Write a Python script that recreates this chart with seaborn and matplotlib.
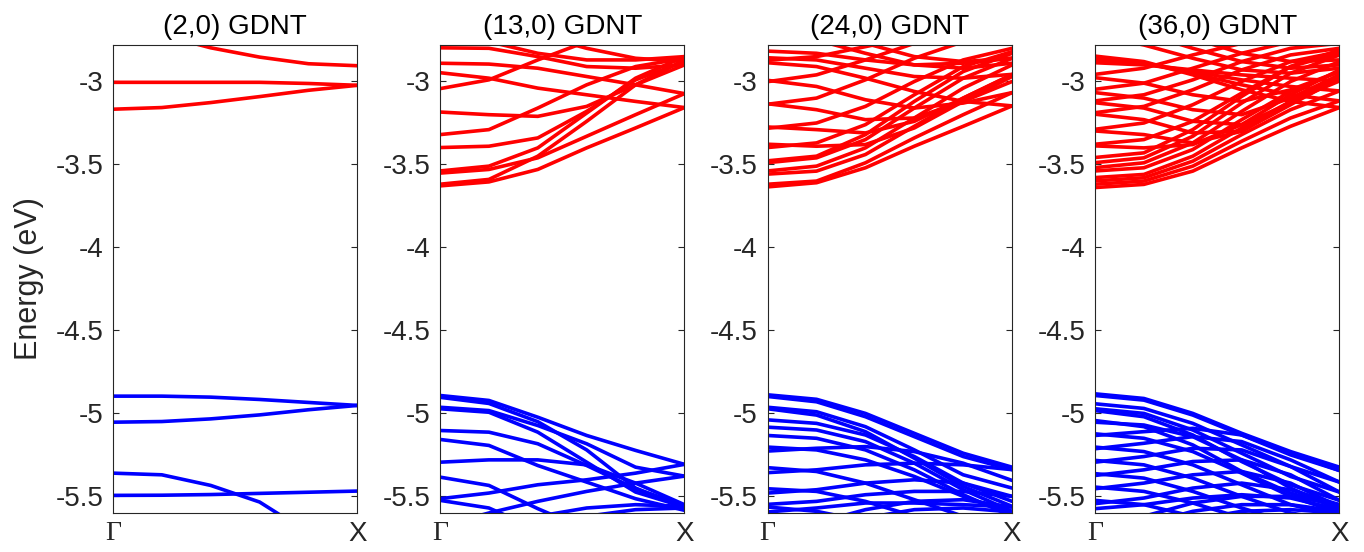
import pandas as pd
import seaborn as sns
import matplotlib.pyplot as plt

# k path Gamma -> X, energies read at these points (eV)
K_POINTS = [0.0, 0.2, 0.4, 0.6, 0.8, 1.0]
TITLES = ['(2,0) GDNT', '(13,0) GDNT', '(24,0) GDNT', '(36,0) GDNT']
Y_TICKS = [-5.5, -5, -4.5, -4, -3.5, -3]
Y_TICK_LABELS = ['-5.5', '-5', '-4.5', '-4', '-3.5', '-3']
X_TICK_LABELS = ['Γ', 'X']

# (2,0)
cond_2_0 = [
    [-2.70, -2.72, -2.797, -2.853, -2.893, -2.905],
    [-3.005, -3.005, -3.005, -3.005, -3.012, -3.023],
    [-3.167, -3.157, -3.127, -3.091, -3.053, -3.023],
]
val_2_0 = [
    [-4.896, -4.896, -4.902, -4.916, -4.934, -4.952],
    [-5.053, -5.049, -5.033, -5.009, -4.978, -4.952],
    [-5.360, -5.370, -5.434, -5.534, -5.72, -5.85],
    [-5.494, -5.493, -5.489, -5.482, -5.475, -5.468],
]

# (13,0)
cond_13_0 = [
    [-3.629, -3.605, -3.53, -3.40, -3.28, -3.157],
    [-3.619, -3.59, -3.45, -3.24, -3.02, -2.87],
    [-3.552, -3.53, -3.46, -3.33, -3.20, -3.073],
    [-3.539, -3.51, -3.40, -3.19, -2.98, -2.85],
    [-3.398, -3.39, -3.34, -3.18, -2.99, -2.88],
    [-3.320, -3.29, -3.16, -3.02, -2.91, -2.86],
    [-3.184, -3.20, -3.21, -3.15, -3.02, -2.90],
    [-3.043, -2.99, -2.87, -2.76, -2.72, -2.70],
    [-2.947, -2.98, -3.04, -3.08, -3.12, -3.157],
    [-2.890, -2.895, -2.92, -2.97, -3.02, -3.073],
    [-2.797, -2.80, -2.85, -2.91, -2.92, -2.90],
    [-2.70, -2.76, -2.83, -2.87, -2.87, -2.85],
    [-2.60, -2.64, -2.72, -2.80, -2.86, -2.88],
]
val_13_0 = [
    [-4.892, -4.922, -5.023, -5.133, -5.223, -5.307],
    [-4.903, -4.94, -5.05, -5.22, -5.45, -5.57],
    [-4.963, -4.983, -5.073, -5.183, -5.324, -5.378],
    [-4.972, -4.993, -5.113, -5.294, -5.474, -5.564],
    [-5.103, -5.113, -5.183, -5.314, -5.454, -5.554],
    [-5.157, -5.193, -5.314, -5.414, -5.514, -5.584],
    [-5.294, -5.28, -5.28, -5.31, -5.42, -5.55],
    [-5.384, -5.434, -5.574, -5.70, -5.80, -5.85],
    [-5.514, -5.48, -5.43, -5.40, -5.36, -5.307],
    [-5.524, -5.57, -5.70, -5.85, -5.95, -6.00],
    [-5.68, -5.60, -5.53, -5.47, -5.42, -5.378],
    [-5.90, -5.75, -5.62, -5.57, -5.55, -5.56],
    [-6.00, -5.90, -5.75, -5.62, -5.58, -5.57],
]

# (24,0)
cond_24_0 = [
    [-3.635, -3.61, -3.52, -3.39, -3.27, -3.147],
    [-3.619, -3.60, -3.49, -3.34, -3.20, -3.067],
    [-3.558, -3.54, -3.44, -3.27, -3.10, -2.957],
    [-3.539, -3.51, -3.40, -3.22, -3.04, -2.90],
    [-3.489, -3.46, -3.35, -3.16, -2.98, -2.86],
    [-3.478, -3.45, -3.32, -3.12, -2.94, -2.83],
    [-3.398, -3.37, -3.26, -3.08, -2.91, -2.82],
    [-3.378, -3.39, -3.38, -3.28, -3.12, -2.97],
    [-3.282, -3.25, -3.15, -3.00, -2.87, -2.80],
    [-3.274, -3.29, -3.31, -3.24, -3.10, -2.96],
    [-3.137, -3.10, -2.99, -2.86, -2.76, -2.72],
    [-3.134, -3.17, -3.23, -3.22, -3.12, -3.00],
    [-3.001, -2.96, -2.87, -2.77, -2.70, -2.67],
    [-2.993, -3.03, -3.11, -3.16, -3.13, -3.067],
    [-2.887, -2.91, -2.98, -3.06, -3.12, -3.147],
    [-2.872, -2.85, -2.79, -2.73, -2.69, -2.68],
    [-2.857, -2.87, -2.92, -2.97, -2.98, -2.957],
    [-2.817, -2.83, -2.87, -2.90, -2.89, -2.86],
    [-2.70, -2.75, -2.83, -2.90, -2.92, -2.89],
    [-2.62, -2.68, -2.77, -2.85, -2.88, -2.86],
]
val_24_0 = [
    [-4.888, -4.915, -5.00, -5.12, -5.24, -5.324],
    [-4.898, -4.93, -5.02, -5.14, -5.26, -5.339],
    [-4.963, -4.99, -5.08, -5.22, -5.37, -5.45],
    [-4.972, -5.01, -5.11, -5.27, -5.44, -5.56],
    [-5.039, -5.06, -5.13, -5.26, -5.42, -5.53],
    [-5.083, -5.10, -5.17, -5.30, -5.46, -5.59],
    [-5.133, -5.15, -5.22, -5.34, -5.49, -5.62],
    [-5.203, -5.22, -5.28, -5.38, -5.50, -5.60],
    [-5.227, -5.21, -5.20, -5.23, -5.30, -5.404],
    [-5.327, -5.35, -5.42, -5.52, -5.62, -5.70],
    [-5.357, -5.34, -5.31, -5.30, -5.31, -5.339],
    [-5.454, -5.47, -5.53, -5.62, -5.70, -5.75],
    [-5.480, -5.46, -5.42, -5.40, -5.42, -5.50],
    [-5.548, -5.53, -5.49, -5.47, -5.47, -5.50],
    [-5.564, -5.59, -5.65, -5.72, -5.78, -5.80],
    [-5.594, -5.57, -5.54, -5.54, -5.55, -5.564],
    [-5.75, -5.66, -5.58, -5.53, -5.52, -5.564],
    [-5.80, -5.72, -5.63, -5.58, -5.57, -5.594],
]

# (36,0)
cond_36_0 = [
    [-3.639, -3.62, -3.54, -3.40, -3.27, -3.157],
    [-3.619, -3.60, -3.51, -3.36, -3.22, -3.117],
    [-3.599, -3.58, -3.48, -3.32, -3.17, -3.057],
    [-3.579, -3.56, -3.45, -3.28, -3.12, -2.997],
    [-3.539, -3.52, -3.41, -3.23, -3.06, -2.94],
    [-3.519, -3.49, -3.37, -3.18, -3.00, -2.88],
    [-3.489, -3.46, -3.33, -3.13, -2.95, -2.84],
    [-3.458, -3.43, -3.29, -3.09, -2.91, -2.81],
    [-3.388, -3.40, -3.38, -3.26, -3.08, -2.93],
    [-3.378, -3.35, -3.24, -3.07, -2.91, -2.83],
    [-3.298, -3.32, -3.37, -3.30, -3.12, -2.96],
    [-3.288, -3.25, -3.14, -3.00, -2.88, -2.82],
    [-3.197, -3.23, -3.31, -3.30, -3.14, -2.98],
    [-3.188, -3.15, -3.05, -2.93, -2.84, -2.80],
    [-3.128, -3.16, -3.24, -3.26, -3.13, -2.97],
    [-3.117, -3.08, -2.99, -2.88, -2.80, -2.77],
    [-3.067, -3.10, -3.17, -3.20, -3.10, -2.96],
    [-3.047, -3.01, -2.92, -2.83, -2.76, -2.73],
    [-2.977, -3.01, -3.08, -3.12, -3.05, -2.94],
    [-2.957, -2.92, -2.84, -2.77, -2.72, -2.70],
    [-2.887, -2.90, -2.93, -2.96, -2.98, -2.997],
    [-2.872, -2.89, -2.94, -2.99, -3.03, -3.057],
    [-2.857, -2.89, -2.95, -3.02, -3.08, -3.117],
    [-2.847, -2.88, -2.96, -3.05, -3.12, -3.157],
    [-2.72, -2.78, -2.86, -2.93, -2.95, -2.92],
    [-2.65, -2.71, -2.80, -2.88, -2.92, -2.90],
    [-2.60, -2.65, -2.74, -2.83, -2.88, -2.87],
]
val_36_0 = [
    [-4.882, -4.91, -5.00, -5.12, -5.23, -5.324],
    [-4.892, -4.92, -5.01, -5.13, -5.25, -5.344],
    [-4.942, -4.97, -5.06, -5.19, -5.32, -5.414],
    [-4.972, -5.00, -5.10, -5.24, -5.38, -5.474],
    [-4.983, -5.02, -5.13, -5.29, -5.43, -5.524],
    [-5.043, -5.08, -5.19, -5.35, -5.48, -5.564],
    [-5.053, -5.07, -5.14, -5.28, -5.45, -5.58],
    [-5.123, -5.15, -5.23, -5.36, -5.50, -5.60],
    [-5.133, -5.11, -5.09, -5.13, -5.24, -5.344],
    [-5.203, -5.23, -5.31, -5.43, -5.55, -5.62],
    [-5.213, -5.18, -5.14, -5.17, -5.28, -5.414],
    [-5.283, -5.31, -5.39, -5.50, -5.60, -5.65],
    [-5.294, -5.26, -5.21, -5.22, -5.32, -5.474],
    [-5.363, -5.39, -5.47, -5.57, -5.66, -5.70],
    [-5.374, -5.34, -5.29, -5.28, -5.37, -5.524],
    [-5.444, -5.47, -5.54, -5.63, -5.70, -5.74],
    [-5.454, -5.42, -5.37, -5.35, -5.42, -5.564],
    [-5.524, -5.55, -5.62, -5.70, -5.76, -5.80],
    [-5.544, -5.51, -5.45, -5.42, -5.46, -5.55],
    [-5.574, -5.55, -5.51, -5.49, -5.51, -5.58],
    [-5.70, -5.62, -5.54, -5.50, -5.50, -5.55],
    [-5.75, -5.67, -5.59, -5.55, -5.55, -5.59],
    [-5.80, -5.72, -5.64, -5.59, -5.58, -5.60],
]

PANELS = [
    (cond_2_0, val_2_0),
    (cond_13_0, val_13_0),
    (cond_24_0, val_24_0),
    (cond_36_0, val_36_0),
]


def to_frame(bands):
    rows = []
    for i, band in enumerate(bands):
        for k, e in zip(K_POINTS, band):
            rows.append((i, k, e))
    return pd.DataFrame(rows, columns=['band', 'k', 'E'])


sns.set_style('ticks')
plt.rcParams['font.family'] = ['Liberation Sans', 'DejaVu Sans']
plt.rcParams['axes.edgecolor'] = '#262626'
plt.rcParams['axes.linewidth'] = 0.8

fig = plt.figure(figsize=(13.64, 5.52), dpi=100)
lefts = [0.0828, 0.3226, 0.5628, 0.8028]

for i, (cond, val) in enumerate(PANELS):
    ax = fig.add_axes([lefts[i], 0.0707, 0.1792, 0.8478])
    sns.lineplot(data=to_frame(cond), x='k', y='E', units='band', estimator=None,
                 sort=False, color='#ff0000', lw=2.6, ax=ax, legend=False)
    sns.lineplot(data=to_frame(val), x='k', y='E', units='band', estimator=None,
                 sort=False, color='#0000ff', lw=2.6, ax=ax, legend=False)

    ax.set_xlim(0, 1)
    ax.set_ylim(-5.6, -2.78)
    ax.set_yticks(Y_TICKS)
    ax.set_yticklabels(Y_TICK_LABELS)
    ax.set_xticks([0, 1])
    ax.set_xticklabels(X_TICK_LABELS)
    ax.get_xticklabels()[0].set_fontfamily('Liberation Serif')
    ax.tick_params(axis='y', direction='in', length=4, width=0.8, right=True,
                   labelsize=20, colors='#262626', pad=7)
    ax.tick_params(axis='x', length=0, labelsize=20, colors='#262626', pad=6)
    ax.set_xlabel('')
    ax.set_ylabel('')
    ax.set_title(TITLES[i], fontsize=20, pad=8, color='black')
    for s in ax.spines.values():
        s.set_visible(True)

    if i == 0:
        ax.set_ylabel('Energy (eV)', fontsize=22, color='#262626', labelpad=8)

fig.savefig('out.png', dpi=100)
